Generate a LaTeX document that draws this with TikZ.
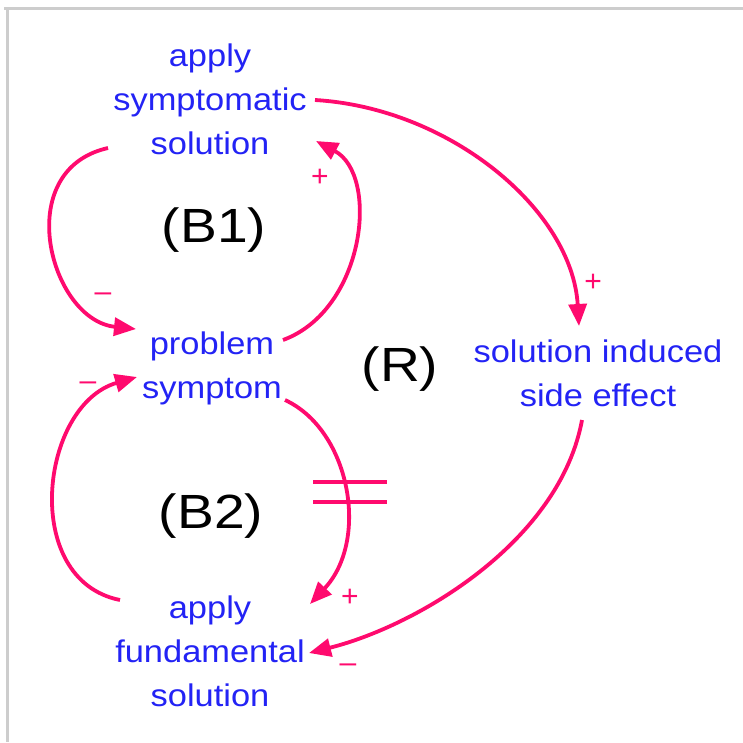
\documentclass[tikz,border=0pt]{standalone}
\usepackage{fontspec}
\setmainfont{Liberation Sans}
\newfontfamily\varfont{Liberation Sans}[FakeStretch=1.1]
\newfontfamily\loopfont{Liberation Sans}[FakeStretch=1.15]
\usetikzlibrary{arrows.meta}
\definecolor{linkpink}{RGB}{255,10,110}
\definecolor{varblue}{RGB}{35,35,245}
\definecolor{framegray}{RGB}{205,205,205}
\begin{document}
\begin{tikzpicture}[x=1pt,y=-1pt,
  var/.style={text=varblue,font=\varfont\fontsize{31.3}{44}\selectfont,align=center,inner sep=0pt},
  loopname/.style={text=black,font=\loopfont\fontsize{48}{52}\selectfont,inner sep=0pt},
  pol/.style={text=linkpink,font=\fontsize{30}{32}\selectfont,inner sep=0pt},
  link/.style={draw=linkpink,line width=3.8pt,-{Triangle[length=22pt,width=18pt]}},
  delaybar/.style={draw=linkpink,line width=3.8pt}]
\useasboundingbox (0,0) rectangle (743,742);
\fill[white] (0,0) rectangle (743,742);
\draw[framegray,line width=3pt] (4,8.5) -- (743,8.5);
\draw[framegray,line width=3pt] (7.5,8.5) -- (7.5,742);
% variables
\node[var] (ss) at (210,99) {apply\\symptomatic\\solution};
\node[var] (ps) at (212,368) {problem\\symptom};
\node[var] (se) at (598,373) {solution induced\\side effect};
\node[var] (fs) at (210,651) {apply\\fundamental\\solution};
% loop names
\node[loopname] (b1) at (214,230) {(B1)};
\node[loopname] (r) at (400,369) {(R)};
\node[loopname] (b2) at (211,516) {(B2)};
% connector end points
\coordinate (a1s) at (315,100);
\coordinate (a1e) at (579,326);
\coordinate (a2s) at (108,148);
\coordinate (a2e) at (136,329);
\coordinate (a3s) at (283,340);
\coordinate (a3e) at (316,141);
\coordinate (a4s) at (285,400);
\coordinate (a4e) at (310,604);
\coordinate (a5s) at (120,600);
\coordinate (a5e) at (137,377);
\coordinate (a6s) at (582,420);
\coordinate (a6e) at (309,653);
% connectors
\draw[link] (a1s) .. controls (450,108) and (572,210) .. (a1e);
\draw[link] (a2s) .. controls (10,170) and (50,320) .. (a2e);
\draw[link] (a3s) .. controls (365,310) and (380,175) .. (a3e);
\draw[link] (a4s) .. controls (350,430) and (370,540) .. (a4e);
\draw[link] (a5s) .. controls (20,580) and (40,405) .. (a5e);
\draw[link] (a6s) .. controls (560,540) and (420,625) .. (a6e);
% delay marks
\coordinate (d1l) at (313,482);
\coordinate (d1r) at (387,482);
\coordinate (d2l) at (313,502);
\coordinate (d2r) at (387,502);
\draw[delaybar] (d1l) -- (d1r);
\draw[delaybar] (d2l) -- (d2r);
% polarities
\node[pol] (p1) at (593,283) {+};
\node[pol] (p2) at (103,297) {–};
\node[pol] (p3) at (320,178) {+};
\node[pol] (p4) at (350,598) {+};
\node[pol] (p5) at (88,386) {–};
\node[pol] (p6) at (348,668) {–};
\end{tikzpicture}
\end{document}
